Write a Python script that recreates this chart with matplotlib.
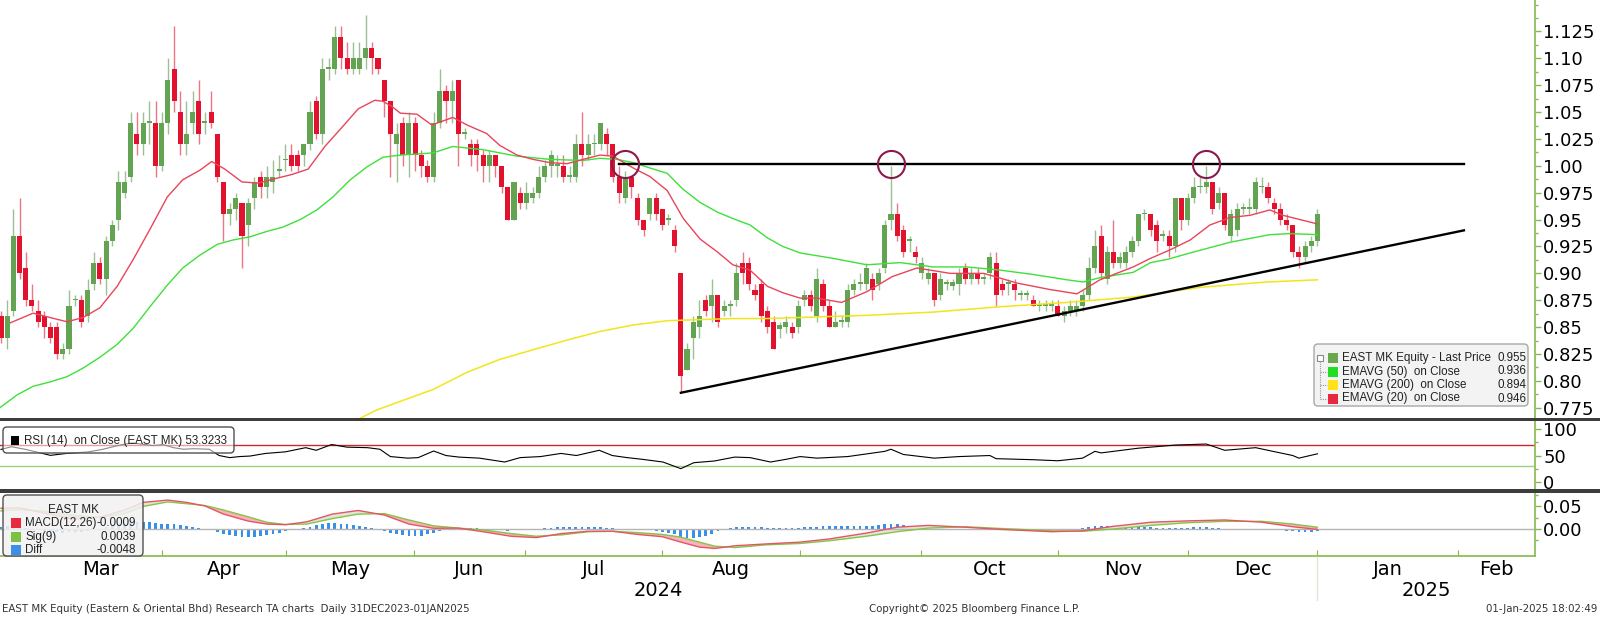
import numpy as np
import matplotlib.pyplot as plt
from matplotlib.patches import FancyBboxPatch, Rectangle
from matplotlib.ticker import FixedLocator, FuncFormatter

# ---- daily candles (EAST MK), one row of ten per line ----
opens = [
    .860, .840, .865, .935, .905, .875, .865, .860, .850, .850,
    .825, .830, .875, .875, .860, .890, .910, .895, .930, .950,
    .975, .990, 1.030, 1.020, 1.040, 1.040, 1.000, 1.040, 1.090, 1.050,
    1.020, 1.040, 1.060, 1.040, 1.050, 1.030, .985, .955, .960, .965,
    .945, .970, .990, .980, .985, .995, 1.005, 1.010, 1.010, 1.010,
    1.020, 1.060, 1.030, 1.090, 1.090, 1.120, 1.100, 1.090, 1.090, 1.100,
    1.110, 1.100, 1.080, 1.060, 1.020, 1.040, 1.010, 1.040, 1.010, 1.000,
    .990, 1.040, 1.070, 1.060, 1.080, 1.030, 1.020, 1.020, 1.010, 1.000,
    1.010, 1.000, .980, .950, .975, .965, .970, .975, .990, 1.000,
    1.000, 1.000, .990, .990, 1.020, 1.010, 1.020, 1.020, 1.030, 1.020,
    .990, .970, .990, .970, .950, .955, .970, .960, .950, .940,
    .900, .810, .840, .850, .875, .870, .880, .865, .870, .875,
    .910, .910, .885, .890, .865, .855, .848, .850, .850, .850,
    .875, .880, .860, .890, .870, .850, .855, .855, .885, .890,
    .890, .895, .890, .905, .950, .955, .940, .930, .920, .900,
    .895, .900, .880, .890, .888, .890, .905, .895, .900, .895,
    .900, .910, .890, .890, .890, .880, .880, .875, .870, .870,
    .870, .870, .860, .865, .865, .870, .880, .905, .935, .895,
    .920, .910, .910, .920, .930, .955, .955, .945, .935, .935,
    .925, .970, .950, .970, .980, .980, .985, .965, .975, .935,
    .940, .960, .960, .960, .980, .980, .965, .960, .950, .945,
    .920, .915, .925, .930,
]
highs = [
    .865, .875, .960, .970, .920, .890, .875, .865, .855, .855,
    .835, .885, .880, .880, .895, .920, .915, .935, .950, .995,
    .995, 1.050, 1.050, 1.050, 1.060, 1.060, 1.050, 1.100, 1.130, 1.070,
    1.060, 1.070, 1.080, 1.050, 1.070, 1.030, .985, .965, .975, .965,
    .970, .990, .995, 1.000, 1.005, 1.010, 1.020, 1.020, 1.015, 1.020,
    1.060, 1.065, 1.100, 1.100, 1.130, 1.130, 1.115, 1.115, 1.115, 1.140,
    1.115, 1.100, 1.080, 1.060, 1.040, 1.045, 1.050, 1.045, 1.015, 1.005,
    1.050, 1.090, 1.075, 1.080, 1.080, 1.035, 1.025, 1.025, 1.015, 1.015,
    1.010, 1.000, .980, .985, .980, .985, .980, 1.000, 1.005, 1.015,
    1.010, 1.010, 1.000, 1.030, 1.050, 1.030, 1.030, 1.040, 1.035, 1.020,
    1.000, .995, .990, .975, .950, .970, .975, .960, .955, .945,
    .900, .835, .860, .875, .880, .895, .880, .875, .875, .910,
    .920, .915, .890, .895, .870, .860, .855, .860, .855, .875,
    .885, .885, .905, .895, .875, .865, .860, .890, .895, .900,
    .910, .900, .905, .950, 1.000, .965, .945, .935, .925, .915,
    .905, .900, .900, .895, .895, .905, .910, .905, .905, .900,
    .920, .920, .895, .895, .895, .885, .885, .880, .875, .875,
    .875, .875, .870, .875, .875, .885, .915, .940, .945, .925,
    .950, .920, .925, .935, .955, .960, .955, .950, .940, .940,
    .970, .970, .975, .990, .990, 1.000, .985, .980, .975, .960,
    .965, .965, .970, .990, .990, .985, .970, .965, .955, .945,
    .925, .930, .935, .960,
]
lows = [
    .835, .830, .860, .895, .870, .865, .850, .840, .835, .820,
    .820, .825, .870, .850, .855, .885, .890, .880, .925, .940,
    .970, .985, 1.010, 1.010, 1.020, .990, .995, 1.030, 1.050, 1.010,
    1.010, 1.030, 1.020, 1.030, 1.035, .985, .930, .945, .950, .905,
    .925, .960, .970, .970, .975, .990, .995, .995, .995, 1.000,
    1.015, 1.025, 1.020, 1.080, 1.085, 1.090, 1.085, 1.085, 1.085, 1.090,
    1.085, 1.085, 1.045, .990, .985, 1.000, .990, .995, .990, .985,
    .985, 1.035, 1.040, 1.040, 1.000, 1.025, 1.000, .995, .985, .985,
    .990, .975, .950, .950, .960, .960, .965, .970, .985, .990,
    .990, .985, .985, .985, 1.000, 1.005, 1.010, 1.015, 1.010, .985,
    .965, .965, .970, .945, .935, .950, .950, .940, .945, .920,
    .790, .810, .820, .840, .860, .855, .850, .860, .860, .870,
    .890, .885, .875, .855, .845, .830, .840, .845, .840, .845,
    .870, .865, .855, .865, .850, .850, .850, .850, .880, .885,
    .885, .875, .885, .900, .940, .930, .915, .920, .910, .895,
    .890, .870, .875, .885, .885, .880, .890, .890, .890, .890,
    .895, .870, .880, .880, .875, .875, .875, .870, .865, .865,
    .865, .860, .855, .860, .860, .865, .875, .900, .895, .890,
    .905, .905, .905, .915, .925, .950, .935, .920, .930, .915,
    .920, .940, .945, .965, .975, .975, .955, .960, .940, .930,
    .935, .955, .955, .955, .975, .965, .955, .945, .940, .915,
    .905, .910, .920, .925,
]
closes = [
    .840, .860, .935, .900, .875, .870, .855, .850, .840, .825,
    .830, .870, .875, .855, .885, .910, .895, .930, .945, .985,
    .985, 1.040, 1.020, 1.040, 1.040, 1.000, 1.040, 1.080, 1.060, 1.020,
    1.030, 1.050, 1.030, 1.040, 1.040, .990, .955, .960, .970, .935,
    .965, .985, .980, .990, .990, .995, 1.005, 1.000, 1.000, 1.020,
    1.050, 1.030, 1.090, 1.090, 1.120, 1.100, 1.090, 1.100, 1.100, 1.110,
    1.100, 1.090, 1.060, 1.030, 1.030, 1.010, 1.040, 1.010, 1.000, .990,
    1.040, 1.070, 1.060, 1.070, 1.030, 1.030, 1.010, 1.010, 1.000, 1.010,
    1.000, .980, .950, .985, .965, .975, .975, .990, 1.000, 1.010,
    1.000, .990, .990, 1.020, 1.010, 1.020, 1.020, 1.040, 1.020, .990,
    .975, .990, .980, .950, .940, .970, .955, .945, .950, .925,
    .805, .830, .855, .860, .865, .880, .855, .870, .870, .900,
    .900, .890, .880, .860, .850, .830, .852, .855, .845, .870,
    .880, .870, .895, .870, .850, .855, .855, .885, .890, .890,
    .905, .885, .900, .945, .955, .935, .920, .930, .915, .910,
    .900, .875, .895, .890, .892, .900, .895, .900, .895, .895,
    .915, .880, .885, .890, .885, .880, .880, .870, .870, .870,
    .870, .860, .865, .870, .870, .880, .905, .925, .900, .920,
    .910, .915, .920, .930, .955, .955, .940, .930, .935, .925,
    .970, .950, .970, .980, .980, .985, .960, .975, .945, .955,
    .960, .960, .960, .985, .980, .970, .960, .950, .945, .920,
    .915, .925, .930, .955,
]

# ---- moving averages (candle index, value) ----
ema20_x = [1.5, 5.2, 7.9, 10.7, 13.3, 16, 18.8, 21.4, 24.1, 26.9, 29.4, 32.2, 34.1, 36.2, 39, 41.6,
           44.3, 47.1, 49.7, 52.4, 55.2, 57.8, 60.5, 61.8, 63.3, 64.6, 67.3, 69.7, 73.1, 75.4, 78.6,
           80.7, 83.5, 86.1, 88.8, 91.6, 94.2, 96.9, 99, 102.3, 105, 107.8, 110.4, 113.1, 115.9,
           118.4, 121.2, 124, 126.5, 129.3, 132, 136, 140.1, 144.2, 148.2, 153.6, 159, 164.4,
           169.7, 174.1, 177.8, 183.2, 186, 189.2, 192.4, 195.6, 198.9, 202.1, 205.3, 207.4,
           210.2, 213]
ema20_y = [.854, .863, .859, .855, .859, .868, .888, .913, .941, .971, .987, .996, 1.004, .997, .985,
           .984, .988, .992, .997, 1.018, 1.036, 1.053, 1.061, 1.060, 1.055, 1.049, 1.048, 1.038,
           1.045, 1.038, 1.030, 1.019, 1.010, 1.006, 1.003, 1.002, 1.006, 1.010, 1.009, .998, .990,
           .977, .951, .932, .920, .908, .903, .888, .882, .877, .877, .873, .883, .897, .905, .900,
           .900, .891, .885, .881, .894, .906, .914, .922, .931, .945, .952, .954, .959, .954,
           .950, .946]
ema50_x = [-0.2, 2.6, 5.2, 7.9, 10.7, 13.3, 16, 18.8, 21.4, 24.1, 26.9, 29.4, 32.2, 35, 37.5, 40.3,
           43, 45.6, 48.4, 51.1, 53.7, 56.5, 59.2, 61.8, 64.6, 69.9, 73.1, 78, 83.5, 88.8, 94.2,
           96.9, 99.7, 102.3, 105, 107.8, 110.4, 113.1, 115.9, 118.4, 121.2, 124, 126.5, 129.3,
           134.6, 140.1, 145.5, 150.8, 156.3, 161.7, 167, 172.5, 175.1, 177.8, 183.2, 186, 188.7,
           192.4, 198.9, 205.3, 208.6, 213]
ema50_y = [.775, .787, .795, .799, .804, .812, .822, .834, .849, .869, .889, .905, .917, .927, .931,
           .934, .939, .943, .950, .959, .971, .987, .999, 1.008, 1.010, 1.012, 1.018, 1.015, 1.009,
           1.006, 1.005, 1.007, 1.006, 1.003, .998, .993, .978, .966, .957, .951, .945, .933, .925,
           .919, .914, .908, .910, .906, .906, .903, .899, .894, .892, .896, .901, .910, .913, .919,
           .929, .936, .937, .936]
ema200_x = [58, 60.8, 64.6, 69.9, 75.4, 80.7, 86.1, 91.6, 96.9, 102.3, 107.8, 113.1, 118.4, 124,
            129.3, 140.1, 150.8, 161.7, 172.5, 183.2, 194, 204.8, 213]
ema200_y = [.765, .773, .781, .792, .808, .820, .829, .838, .846, .852, .856, .857, .858, .858,
            .859, .861, .864, .869, .873, .878, .887, .892, .894]

# ---- RSI(14) ----
rsi_x = [0, 1.7, 4, 8, 10.6, 14, 16.4, 19.6, 21.3, 24.6, 26.2, 27.9, 29.5, 31.2, 33.7, 35.3, 37,
         38.6, 40.3, 42.8, 46, 49.3, 51, 53.5, 56, 59.3, 61.3, 63, 65.8, 67.5, 70, 72, 74.1, 77.4,
         81.5, 84, 87.3, 90.6, 93.1, 96.8, 98.9, 101.3, 103.8, 107.1, 110, 112.1, 115.4, 118.7,
         121.2, 124.5, 127, 129.3, 132, 137, 143, 144, 146, 151, 155, 160, 161, 167, 171, 175,
         177, 178, 184, 190, 195, 198, 203, 209, 210, 213]
rsi_y = [61.7, 66.8, 61.7, 50.3, 54, 56.7, 61.7, 71, 74, 69, 71, 65, 62, 63, 62, 50, 46, 48, 49,
         54, 57, 65, 60, 71, 66, 65, 62, 48, 45, 46, 58.6, 50, 47, 45, 37.6, 46, 48, 54, 50, 60, 50,
         46, 42.7, 37.6, 24.9, 36.3, 39.5, 47, 46, 37.6, 42.7, 48, 45, 48, 58, 62, 52, 45, 48, 50,
         44, 42, 40, 45, 58, 55, 64, 70, 72, 60, 65, 50, 45, 53.3]

# ---- MACD(12,26) and signal(9) ----
macd_x = [0, 3, 8, 12, 16, 20, 23, 27, 30, 33, 36, 40, 43, 46, 49.5, 53.6, 57.8, 62, 66, 70, 74,
          78, 82.5, 86.6, 90.7, 95, 99, 103, 107, 110, 113, 115.5, 118.8, 123.8, 129.3, 134, 140,
          145, 150, 156, 162, 170, 175, 180, 186, 192, 198, 204, 209, 213]
macd_y = [.046, .047, .032, .022, .026, .042, .059, .064, .059, .051, .033, .0175, .011, .0095,
          .016, .033, .041, .031, .011, .0016, .002, -.006, -.016, -.019, -.010, -.005, -.005,
          -.012, -.017, -.029, -.040, -.043, -.037, -.033, -.029, -.022, -.009, .004, .008, .004,
          -.001, -.006, -.004, .006, .015, .018, .020, .015, .005, -.0009]
sig_y = [.040, .043, .038, .030, .026, .034, .050, .060, .056, .052, .042, .027, .015, .010, .011,
         .023, .033, .034, .020, .007, .002, -.002, -.010, -.016, -.013, -.006, -.005, -.008,
         -.012, -.018, -.029, -.038, -.041, -.035, -.032, -.026, -.016, -.006, .002, .005, .001,
         -.004, -.005, .000, .008, .014, .017, .017, .011, .0039]
diff = [
    .004, .006, .007, .005, .002, -.001, -.003, -.005, -.006, -.007,
    -.008, -.007, -.006, -.006, -.004, -.002, .001, .004, .007, .010,
    .012, .015, .016, .016, .016, .014, .012, .011, .010, .008,
    .006, .004, .002, .000, -.003, -.007, -.011, -.014, -.016, -.018,
    -.018, -.017, -.015, -.013, -.010, -.008, -.005, -.003, -.001, .002,
    .005, .008, .011, .013, .013, .012, .010, .008, .006, .004,
    .002, -.001, -.004, -.008, -.011, -.014, -.016, -.016, -.015, -.012,
    -.008, -.005, -.003, -.002, -.002, .001, .002, .002, .001, -.001,
    -.002, -.003, -.004, -.003, -.002, -.001, .000, .001, .002, .003,
    .004, .004, .004, .005, .005, .004, .004, .004, .003, .002,
    .000, -.001, -.002, -.003, -.003, -.003, -.004, -.006, -.009, -.012,
    -.018, -.020, -.020, -.018, -.015, -.010, -.005, -.001, .002, .004,
    .005, .005, .004, .004, .003, .002, .002, .002, .003, .003,
    .004, .004, .005, .006, .006, .006, .006, .006, .007, .007,
    .007, .007, .008, .010, .012, .011, .008, .006, .004, .002,
    .001, -.001, -.002, -.003, -.003, -.003, -.003, -.003, -.003, -.003,
    -.002, -.003, -.003, -.003, -.003, -.003, -.003, -.003, -.003, -.003,
    -.003, -.003, -.002, -.001, .000, .002, .004, .006, .006, .006,
    .006, .006, .006, .006, .006, .005, .004, .003, .003, .002,
    .003, .003, .003, .004, .004, .004, .003, .002, .001, .000,
    .000, -.001, -.001, .000, .000, -.001, -.002, -.003, -.004, -.005,
    -.006, -.006, -.006, -.005,
]

# month boundaries and labels on the trading-day axis
month_edges = [6.15, 26.05, 46.1, 66.8, 84.8, 107.0, 129.3, 148.9, 171.0, 192.1, 213.0, 235.8]
month_names = ['Mar', 'Apr', 'May', 'Jun', 'Jul', 'Aug', 'Sep', 'Oct', 'Nov', 'Dec', 'Jan', 'Feb']

# drawn annotations: resistance, rising trendline, touch points
resist_level = 1.002
trend_x = [110, 236.7]
trend_y = [.789, .940]
touch_x = [101, 144, 195]

# legend values
last_price, ema50_last, ema200_last, ema20_last = 0.955, 0.936, 0.894, 0.946

GREEN = '#62a452'
RED = '#e2122f'
AXG = '#86b94e'
NARROW = ['Liberation Sans Narrow', 'DejaVu Sans']
LEGF = ['Liberation Sans', 'DejaVu Sans']

W, H = 1600, 617
AXR = 1535
X0, X1 = -0.16, 248.2

fig = plt.figure(figsize=(16, 6.17), dpi=100)
fig.patch.set_facecolor('white')


def add_panel(top, bottom):
    return fig.add_axes([0, 1 - bottom / H, AXR / W, (bottom - top) / H])


ax = add_panel(0, 419)
ax_rsi = add_panel(421, 489)
ax_macd = add_panel(492, 556)

for a in (ax, ax_rsi, ax_macd):
    a.set_xlim(X0, X1)
    for s in ('top', 'left', 'bottom'):
        a.spines[s].set_visible(False)
    a.spines['right'].set_color(AXG)
    a.spines['right'].set_linewidth(1.2)
    a.yaxis.tick_right()
    a.tick_params(axis='y', which='major', colors=AXG, labelcolor='black', length=4,
                  width=1, labelsize=13, pad=2)
    a.tick_params(axis='y', which='minor', colors=AXG, length=2.5, width=1)
    a.set_xticks([])
    a.patch.set_alpha(0)

# ---- price panel ----
x = np.arange(len(closes))
o, h, l, c = map(np.array, (opens, highs, lows, closes))
up = c >= o
ax.vlines(x, l, h, colors=np.where(up, '#9cc094', '#ec7683'), lw=1, zorder=2)
ax.bar(x, np.maximum(np.abs(c - o), 0.0016), bottom=np.minimum(o, c), width=0.82,
       color=np.where(up, GREEN, RED), linewidth=0, zorder=3)

ax.plot(ema200_x, ema200_y, color='#f2e51a', lw=1.1, zorder=4)
ax.plot(ema50_x, ema50_y, color='#3ee03a', lw=1.0, zorder=4)
ax.plot(ema20_x, ema20_y, color='#e8455a', lw=1.0, zorder=4)

ax.plot([touch_x[0] - 1, 236.7], [resist_level, resist_level], color='black', lw=1.7, zorder=5)
ax.plot(trend_x, trend_y, color='black', lw=1.7, zorder=5)
ax.plot(touch_x, [resist_level] * 3, 'o', ms=19.5, mfc='none', mec='#8a1a4c', mew=1.5, zorder=6)

ax.set_ylim(0.7646, 1.1542)
ax.yaxis.set_major_locator(FixedLocator(np.arange(0.775, 1.13, 0.025)))
ax.yaxis.set_minor_locator(FixedLocator(np.arange(0.7625, 1.16, 0.0125)))


def price_fmt(v, _):
    s = f'{v:.3f}'
    return s[:-1] if s.endswith('0') else s


ax.yaxis.set_major_formatter(FuncFormatter(price_fmt))

# ---- RSI panel ----
ax_rsi.set_ylim(-14, 116)
ax_rsi.axhline(70, color='#cc2a2a', lw=1)
ax_rsi.axhline(30, color='#9ad27a', lw=1)
ax_rsi.plot(rsi_x, rsi_y, color='black', lw=0.8)
ax_rsi.set_yticks([0, 50, 100])
ax_rsi.yaxis.set_minor_locator(FixedLocator([25, 75]))

# ---- MACD panel ----
mx, my, sy = map(np.array, (macd_x, macd_y, sig_y))
ax_macd.set_ylim(-0.0597, 0.0819)
ax_macd.axhline(0, color='#b5b5b5', lw=1)
ax_macd.bar(x, diff, width=0.45, color='#3a8fe6', linewidth=0)
ax_macd.fill_between(mx, my, sy, where=my >= sy, interpolate=True, color='#dfe6d6', lw=0)
ax_macd.fill_between(mx, my, sy, where=my < sy, interpolate=True, color='#f6b3b9', lw=0)
ax_macd.plot(mx, sy, color='#86c446', lw=1)
ax_macd.plot(mx, my, color='#e65566', lw=1)
ax_macd.set_yticks([0.0, 0.05])
ax_macd.yaxis.set_major_formatter(FuncFormatter(lambda v, _: f'{v:.2f}'))
ax_macd.yaxis.set_minor_locator(FixedLocator([-0.025, 0.025, 0.075]))

# bottom date axis
ax_macd.spines['bottom'].set_visible(True)
ax_macd.spines['bottom'].set_color(AXG)
ax_macd.spines['bottom'].set_linewidth(1.2)
ax_macd.set_xticks(month_edges)
ax_macd.set_xticklabels([])
mids = [(a + b) / 2 for a, b in zip(month_edges, month_edges[1:] + [X1])]
ax_macd.set_xticks(mids, minor=True)
ax_macd.set_xticklabels(month_names, minor=True, fontsize=14, family=NARROW)
ax_macd.tick_params(axis='x', which='major', direction='in', length=4, colors=AXG)
ax_macd.tick_params(axis='x', which='minor', length=0, pad=3, labelcolor='black')

# ---- overlay in pixel coordinates for boxes, separators and footer ----
ov = fig.add_axes([0, 0, 1, 1], zorder=10)
ov.set_xlim(0, W)
ov.set_ylim(H, 0)
ov.axis('off')
ov.patch.set_alpha(0)

for y in (417.5, 489.0):
    ov.add_patch(Rectangle((0, y), W, 3.5, color='#3d3d3d', lw=0))

# main legend
ov.add_patch(FancyBboxPatch((1314, 344), 214, 62, boxstyle='round,pad=0,rounding_size=4',
                            fc='#f3f3f3', ec='#a8a8a8', lw=1))
rows = [358, 371.5, 385, 398.5]
ov.add_patch(Rectangle((1317, 355), 6, 6, fc='white', ec='#8a8a8a', lw=0.8))
ov.plot([1320, 1320], [361, rows[-1]], color='#9a9a9a', lw=0.8, ls=(0, (1, 1)))
for ry in rows[1:]:
    ov.plot([1320, 1327], [ry, ry], color='#9a9a9a', lw=0.8, ls=(0, (1, 1)))
leg_labels = ['EAST MK Equity - Last Price', 'EMAVG (50)  on Close', 'EMAVG (200)  on Close',
              'EMAVG (20)  on Close']
leg_vals = [last_price, ema50_last, ema200_last, ema20_last]
leg_cols = ['#6aa84f', '#22dd22', '#ffe21a', '#e8283c']
for ry, lab, val, col in zip(rows, leg_labels, leg_vals, leg_cols):
    ov.add_patch(Rectangle((1328, ry - 5), 10, 10, color=col, lw=0))
    ov.text(1342, ry, lab, fontsize=8.4, family=LEGF, va='center', ha='left', color='#222222')
    ov.text(1526, ry, f'{val:.3f}', fontsize=8.4, family=LEGF, va='center', ha='right',
            color='#222222')

# RSI legend
ov.add_patch(FancyBboxPatch((3, 427), 231, 26, boxstyle='round,pad=0,rounding_size=4',
                            fc=(1, 1, 1, 0.55), ec='#505050', lw=1))
ov.add_patch(Rectangle((11, 436), 8, 9, color='black', lw=0))
ov.text(24, 441, 'RSI (14)  on Close (EAST MK) 53.3233', fontsize=8.4, family=LEGF,
        va='center', ha='left', color='#222222')

# MACD legend
ov.add_patch(FancyBboxPatch((3, 495), 140, 61, boxstyle='round,pad=0,rounding_size=4',
                            fc=(0.95, 0.95, 0.95, 0.85), ec='#505050', lw=1))
ov.text(73, 510, 'EAST MK', fontsize=8.4, family=LEGF, va='center', ha='center', color='#222222')
for ry, lab, val, col in zip([523, 537, 550], ['MACD(12,26)', 'Sig(9)', 'Diff'],
                             ['-0.0009', '0.0039', '-0.0048'],
                             ['#e8283c', '#7cc142', '#3d8fe8']):
    ov.add_patch(Rectangle((11, ry - 5), 10, 10, color=col, lw=0))
    ov.text(25, ry, lab, fontsize=8.4, family=LEGF, va='center', ha='left', color='#222222')
    ov.text(136, ry, val, fontsize=8.4, family=LEGF, va='center', ha='right', color='#222222')

# years and footer
ov.plot([1317, 1317], [557, 600], color='#dfe8d2', lw=1)
ov.text(658, 590, '2024', fontsize=14, family=NARROW, ha='center', va='center')
ov.text(1426, 590, '2025', fontsize=14, family=NARROW, ha='center', va='center')
ov.text(2, 609, 'EAST MK Equity (Eastern & Oriental Bhd) Research TA charts  Daily 31DEC2023-01JAN2025',
        fontsize=7.4, family=NARROW, ha='left', va='center', color='#333333')
ov.text(974, 609, 'Copyright\u00a9 2025 Bloomberg Finance L.P.', fontsize=7.4, family=NARROW,
        ha='center', va='center', color='#333333')
ov.text(1597, 609, '01-Jan-2025 18:02:49', fontsize=7.4, family=NARROW, ha='right', va='center',
        color='#333333')

fig.savefig('out.png', dpi=100)
